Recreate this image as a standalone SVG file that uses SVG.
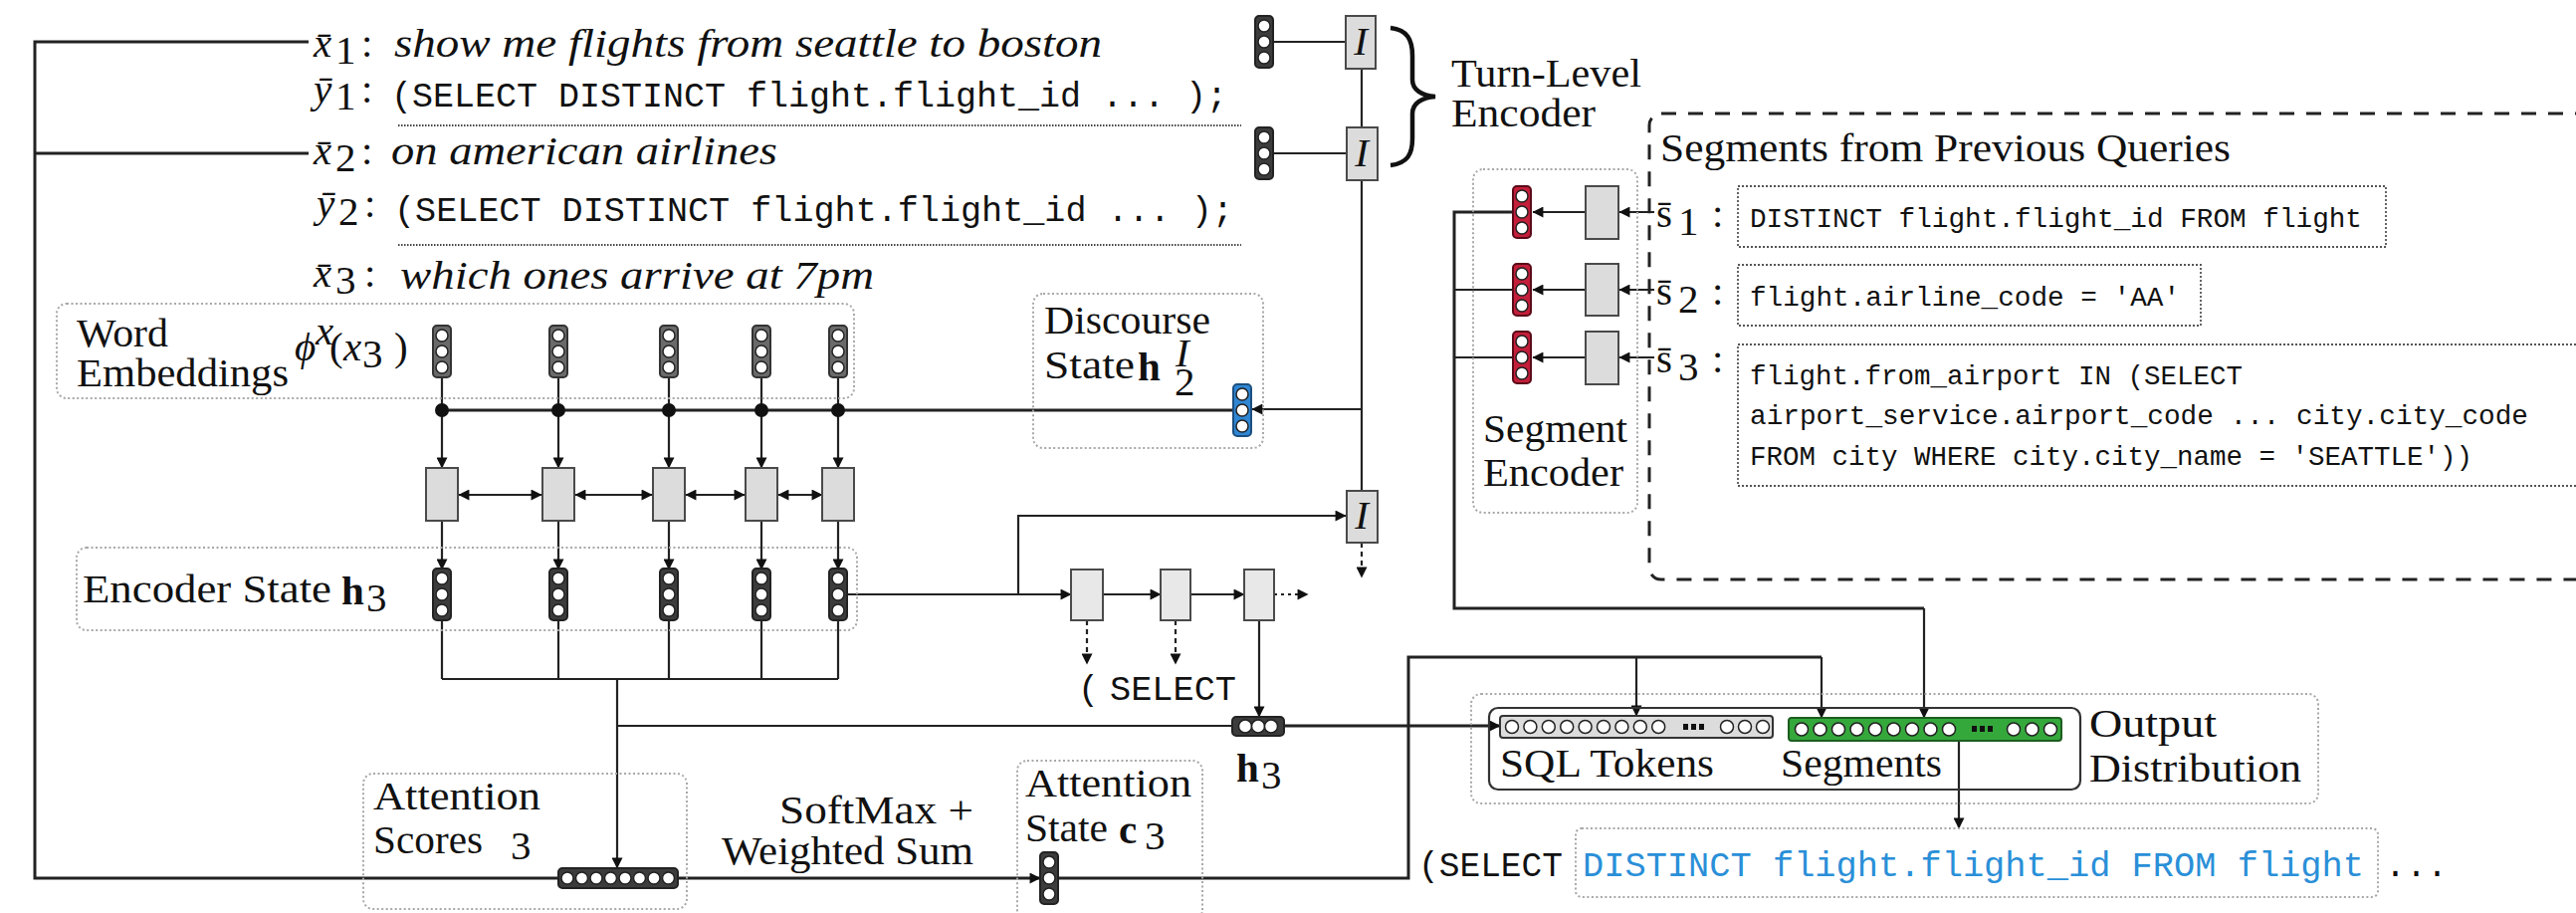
<svg xmlns="http://www.w3.org/2000/svg" width="2588" height="917" viewBox="0 0 2588 917">
<style>
.t{font-family:"Liberation Serif",serif;font-size:41px;fill:#111}
.it{font-style:italic}
.b{font-weight:bold}
.m{font-family:"Liberation Mono",monospace;font-size:35px;fill:#111}
.sm{font-family:"Liberation Mono",monospace;font-size:27.5px;fill:#111}
.grp{fill:none;stroke:#a8a8a8;stroke-width:2;stroke-dasharray:2 2.5}
.sb{fill:none;stroke:#555;stroke-width:1.8;stroke-dasharray:2 2}
.ln{fill:none;stroke:#222;stroke-width:2.2}
.thk{stroke-width:3}
.arr{marker-end:url(#ah)}
.bi{marker-start:url(#ah);marker-end:url(#ah)}
.dsh{stroke-dasharray:5 4}
.dot{stroke-dasharray:3 4}
.box{fill:#dcdcdc;stroke:#4a4a4a;stroke-width:2}
.dbox{fill:#e8e8e8;stroke:#4a4a4a;stroke-width:2}
.c{fill:#fff;stroke:#222;stroke-width:1.5}
</style>
<defs>
<marker id="ah" viewBox="0 0 10 10" refX="9.5" refY="5" markerWidth="12" markerHeight="11" markerUnits="userSpaceOnUse" orient="auto-start-reverse"><path d="M0,0 L10,5 L0,10 z" fill="#111"/></marker>
<g id="vn"><rect x="-9" y="-26" width="18" height="52" rx="4" stroke-width="2"/><circle class="c" cy="-16" r="6"/><circle class="c" r="6"/><circle class="c" cy="16" r="6"/></g>
</defs>

<g id="connectors">
<path class="ln thk" d="M310,42 H35 V882 H560"/>
<path class="ln thk" d="M35,154 H310"/>
<path class="ln" d="M1279,42 H1352 M1279,154 H1352"/>
<path class="ln" d="M1368,69 V128 M1368,181 V493"/>
<path class="ln arr" d="M1368,411 H1258"/>
<path class="ln dsh arr" d="M1368,545 V580"/>
<path class="ln thk" d="M444,412 H1239"/>
<path class="ln" d="M444,379 V412 M561,379 V412 M672,379 V412 M765,379 V412 M842,379 V412"/>
<path class="ln arr" d="M444,412 V470"/>
<path class="ln arr" d="M561,412 V470"/>
<path class="ln arr" d="M672,412 V470"/>
<path class="ln arr" d="M765,412 V470"/>
<path class="ln arr" d="M842,412 V470"/>
<path class="ln bi" d="M461,497 H544"/>
<path class="ln bi" d="M578,497 H655"/>
<path class="ln bi" d="M689,497 H748"/>
<path class="ln bi" d="M782,497 H826"/>
<path class="ln arr" d="M444,523 V572"/>
<path class="ln arr" d="M561,523 V572"/>
<path class="ln arr" d="M672,523 V572"/>
<path class="ln arr" d="M765,523 V572"/>
<path class="ln arr" d="M842,523 V572"/>
<path class="ln" d="M444,623 V682 M561,623 V682 M672,623 V682 M765,623 V682 M842,623 V682 M444,682 H842"/>
<path class="ln arr" d="M620,682 V872"/>
<path class="ln" d="M620,729 H1238"/>
<path class="ln thk arr" d="M1290,729 H1507"/>
<path class="ln arr" d="M851,597 H1076"/>
<path class="ln arr" d="M1023,597 V518 H1352"/>
<path class="ln arr" d="M1108,597 H1166"/>
<path class="ln arr" d="M1196,597 H1250"/>
<path class="ln dot arr" d="M1280,597 H1314"/>
<path class="ln dsh arr" d="M1092,623 V667"/>
<path class="ln dsh arr" d="M1181,623 V667"/>
<path class="ln arr" d="M1265,623 V720"/>
<path class="ln thk arr" d="M681,882 H1045"/>
<path class="ln thk" d="M1063,882 H1415 V660 H1830"/>
<path class="ln arr" d="M1830,660 V721"/>
<path class="ln arr" d="M1644,660 V719"/>
<path class="ln thk" d="M1519,213 H1461 V611 H1933"/>
<path class="ln arr" d="M1933,611 V721"/>
<path class="ln" d="M1461,291 H1519 M1461,359 H1519"/>
<path class="ln arr" d="M1593,213 H1540"/>
<path class="ln arr" d="M1593,291 H1540"/>
<path class="ln arr" d="M1593,359 H1540"/>
<path class="ln arr" d="M1662,213 H1627"/>
<path class="ln arr" d="M1662,291 H1627"/>
<path class="ln arr" d="M1662,359 H1627"/>
<path class="ln arr" d="M1968,744 V832"/>
</g>

<g id="utterances">
<text class="t it" x="315" y="57" font-size="44">x&#x304;</text><text class="t" x="337" y="64" font-size="26">1</text><text class="t" x="363" y="57">:</text>
<text class="t it" x="396" y="57" font-size="44" textLength="711" lengthAdjust="spacingAndGlyphs">show me flights from seattle to boston</text>
<text class="t it" x="315" y="103" font-size="44">y&#x304;</text><text class="t" x="337" y="110" font-size="26">1</text><text class="t" x="363" y="103">:</text>
<text class="m" x="393" y="107" textLength="840" lengthAdjust="spacingAndGlyphs">(SELECT DISTINCT flight.flight_id ... );</text>
<line x1="400" y1="126" x2="1247" y2="126" stroke="#444" stroke-width="2" stroke-dasharray="1.5 1.5"/>
<text class="t it" x="315" y="165" font-size="44">x&#x304;</text><text class="t" x="337" y="172" font-size="26">2</text><text class="t" x="363" y="165">:</text>
<text class="t it" x="393" y="165" font-size="44" textLength="388" lengthAdjust="spacingAndGlyphs">on american airlines</text>
<text class="t it" x="318" y="218" font-size="44">y&#x304;</text><text class="t" x="340" y="226" font-size="26">2</text><text class="t" x="366" y="218">:</text>
<text class="m" x="396" y="222" textLength="843" lengthAdjust="spacingAndGlyphs">(SELECT DISTINCT flight.flight_id ... );</text>
<line x1="400" y1="246" x2="1247" y2="246" stroke="#444" stroke-width="2" stroke-dasharray="1.5 1.5"/>
<text class="t it" x="315" y="288" font-size="44">x&#x304;</text><text class="t" x="337" y="295" font-size="26">3</text><text class="t" x="366" y="288">:</text>
<text class="t it" x="402" y="290" font-size="44" textLength="476" lengthAdjust="spacingAndGlyphs">which ones arrive at 7pm</text>
</g>

<g id="turn-encoder">
<use href="#vn" x="1270" y="42" fill="#3c3c3c" stroke="#222"/>
<use href="#vn" x="1270" y="154" fill="#3c3c3c" stroke="#222"/>
<rect class="box" x="1352" y="16" width="30" height="53"/><text class="t it" x="1367" y="55" text-anchor="middle" font-size="36">I</text>
<rect class="box" x="1353" y="128" width="31" height="53"/><text class="t it" x="1368" y="167" text-anchor="middle" font-size="36">I</text>
<path d="M1397,28 C1414,30 1419,40 1419,56 L1419,80 C1419,90 1428,96 1442,97 C1428,98 1419,104 1419,114 L1419,139 C1419,155 1414,164 1397,166" fill="none" stroke="#111" stroke-width="4.5"/>
<text class="t" x="1458" y="87" textLength="191" lengthAdjust="spacingAndGlyphs">Turn-Level</text>
<text class="t" x="1458" y="127" textLength="145" lengthAdjust="spacingAndGlyphs">Encoder</text>
</g>

<g id="word-embeddings">
<rect class="grp" x="57" y="305" width="801" height="95" rx="10"/>
<text class="t" x="77" y="348" textLength="92" lengthAdjust="spacingAndGlyphs">Word</text>
<text class="t" x="77" y="388" textLength="213" lengthAdjust="spacingAndGlyphs">Embeddings</text>
<text class="t it" x="296" y="362" font-size="32">ϕ</text><text class="t it" x="317" y="346" font-size="19">x</text><text class="t" x="331" y="362" font-size="34">(</text><text class="t it" x="345" y="362" font-size="32">x</text><text class="t" x="364" y="369" font-size="22">3</text><text class="t" x="396" y="362" font-size="34">)</text>
<use href="#vn" x="444" y="353" fill="#6a6a6a" stroke="#333"/>
<use href="#vn" x="561" y="353" fill="#6a6a6a" stroke="#333"/>
<use href="#vn" x="672" y="353" fill="#6a6a6a" stroke="#333"/>
<use href="#vn" x="765" y="353" fill="#6a6a6a" stroke="#333"/>
<use href="#vn" x="842" y="353" fill="#6a6a6a" stroke="#333"/>
<circle cx="444" cy="412" r="7" fill="#111"/><circle cx="561" cy="412" r="7" fill="#111"/><circle cx="672" cy="412" r="7" fill="#111"/><circle cx="765" cy="412" r="7" fill="#111"/><circle cx="842" cy="412" r="7" fill="#111"/>
</g>

<g id="bi-rnn">
<rect class="box" x="428" y="470" width="32" height="53"/>
<rect class="box" x="545" y="470" width="32" height="53"/>
<rect class="box" x="656" y="470" width="32" height="53"/>
<rect class="box" x="749" y="470" width="32" height="53"/>
<rect class="box" x="826" y="470" width="32" height="53"/>
</g>

<g id="encoder-state">
<rect class="grp" x="77" y="550" width="784" height="83" rx="10"/>
<text class="t" x="83" y="605" textLength="250" lengthAdjust="spacingAndGlyphs">Encoder State</text>
<text class="t b" x="343" y="607" font-size="44">h</text><text class="t" x="368" y="614" font-size="28">3</text>
<use href="#vn" x="444" y="597" fill="#3c3c3c" stroke="#222"/>
<use href="#vn" x="561" y="597" fill="#3c3c3c" stroke="#222"/>
<use href="#vn" x="672" y="597" fill="#3c3c3c" stroke="#222"/>
<use href="#vn" x="765" y="597" fill="#3c3c3c" stroke="#222"/>
<use href="#vn" x="842" y="597" fill="#3c3c3c" stroke="#222"/>
</g>

<g id="discourse-state">
<rect class="grp" x="1038" y="295" width="231" height="155" rx="10"/>
<text class="t" x="1049" y="335" textLength="167" lengthAdjust="spacingAndGlyphs">Discourse</text>
<text class="t" x="1049" y="380" textLength="91" lengthAdjust="spacingAndGlyphs">State</text>
<text class="t b" x="1143" y="382" font-size="44">h</text><text class="t it" x="1181" y="368" font-size="25">I</text><text class="t" x="1180" y="397" font-size="25">2</text>
<use href="#vn" x="1248" y="412" fill="#2f86d3" stroke="#1b4f80"/>
</g>

<g id="turn-encoder-3">
<rect class="box" x="1353" y="493" width="31" height="52"/><text class="t it" x="1368" y="531" text-anchor="middle" font-size="36">I</text>
</g>

<g id="decoder">
<rect class="dbox" x="1076" y="572" width="32" height="51"/>
<rect class="dbox" x="1166" y="572" width="30" height="51"/>
<rect class="dbox" x="1250" y="572" width="30" height="51"/>
<text class="m" x="1083" y="703">(</text>
<text class="m" x="1115" y="703" textLength="127" lengthAdjust="spacingAndGlyphs">SELECT</text>
</g>

<g id="h3">
<rect x="1238" y="720" width="52" height="19" rx="4" fill="#3c3c3c" stroke="#222" stroke-width="2"/>
<circle class="c" cx="1251" cy="729.5" r="6.5"/><circle class="c" cx="1264" cy="729.5" r="6.5"/><circle class="c" cx="1277" cy="729.5" r="6.5"/>
<text class="t b" x="1242" y="785" font-size="44">h</text><text class="t" x="1267" y="792" font-size="28">3</text>
</g>

<g id="attention-scores">
<rect class="grp" x="365" y="777" width="325" height="136" rx="10"/>
<text class="t" x="375" y="813" textLength="168" lengthAdjust="spacingAndGlyphs">Attention</text>
<text class="t" x="375" y="857" textLength="110" lengthAdjust="spacingAndGlyphs">Scores</text>
<text class="t" x="513" y="863" font-size="28">3</text>
<rect x="561" y="872" width="120" height="20" rx="4" fill="#3c3c3c" stroke="#222" stroke-width="2"/>
<circle class="c" cx="570" cy="882" r="6"/><circle class="c" cx="584.5" cy="882" r="6"/><circle class="c" cx="599" cy="882" r="6"/><circle class="c" cx="613.5" cy="882" r="6"/><circle class="c" cx="628" cy="882" r="6"/><circle class="c" cx="642.5" cy="882" r="6"/><circle class="c" cx="657" cy="882" r="6"/><circle class="c" cx="671.5" cy="882" r="6"/>
</g>

<g id="softmax-label">
<text class="t" x="783" y="827" font-size="39" textLength="195" lengthAdjust="spacingAndGlyphs">SoftMax +</text>
<text class="t" x="725" y="868" font-size="39" textLength="253" lengthAdjust="spacingAndGlyphs">Weighted Sum</text>
</g>

<g id="attention-state">
<rect class="grp" x="1022" y="764" width="186" height="160" rx="10"/>
<text class="t" x="1030" y="800" textLength="167" lengthAdjust="spacingAndGlyphs">Attention</text>
<text class="t" x="1030" y="845" textLength="83" lengthAdjust="spacingAndGlyphs">State</text>
<text class="t b" x="1124" y="847" font-size="44">c</text><text class="t" x="1150" y="853" font-size="28">3</text>
<use href="#vn" x="1054" y="882" fill="#3c3c3c" stroke="#222"/>
</g>

<g id="segment-encoder">
<rect class="grp" x="1480" y="170" width="165" height="345" rx="10"/>
<use href="#vn" x="1529" y="213" fill="#c41e3a" stroke="#5a0a18"/>
<use href="#vn" x="1529" y="291" fill="#c41e3a" stroke="#5a0a18"/>
<use href="#vn" x="1529" y="359" fill="#c41e3a" stroke="#5a0a18"/>
<rect class="box" x="1593" y="187" width="33" height="53"/>
<rect class="box" x="1593" y="265" width="33" height="52"/>
<rect class="box" x="1593" y="333" width="33" height="53"/>
<text class="t" x="1490" y="444" textLength="145" lengthAdjust="spacingAndGlyphs">Segment</text>
<text class="t" x="1490" y="488" textLength="141" lengthAdjust="spacingAndGlyphs">Encoder</text>
</g>

<g id="previous-segments">
<rect x="1657" y="114" width="1000" height="468" rx="12" fill="none" stroke="#222" stroke-width="3" stroke-dasharray="15 12"/>
<text class="t" x="1668" y="162" textLength="573" lengthAdjust="spacingAndGlyphs">Segments from Previous Queries</text>
<text class="t" x="1664" y="228" font-size="40">s&#x304;</text><text class="t" x="1686" y="236" font-size="29">1</text><text class="t" x="1720" y="228">:</text>
<text class="t" x="1664" y="306" font-size="40">s&#x304;</text><text class="t" x="1686" y="314" font-size="29">2</text><text class="t" x="1720" y="306">:</text>
<text class="t" x="1664" y="374" font-size="40">s&#x304;</text><text class="t" x="1686" y="382" font-size="29">3</text><text class="t" x="1720" y="374">:</text>
<rect class="sb" x="1746" y="187" width="651" height="61"/>
<text class="sm" x="1758" y="228" textLength="615" lengthAdjust="spacingAndGlyphs">DISTINCT flight.flight_id FROM flight</text>
<rect class="sb" x="1746" y="266" width="465" height="61"/>
<text class="sm" x="1758" y="307" textLength="432" lengthAdjust="spacingAndGlyphs">flight.airline_code = 'AA'</text>
<rect class="sb" x="1746" y="346" width="900" height="142"/>
<text class="sm" x="1758" y="386">flight.from_airport IN (SELECT</text>
<text class="sm" x="1758" y="426" textLength="782" lengthAdjust="spacingAndGlyphs">airport_service.airport_code ... city.city_code</text>
<text class="sm" x="1758" y="467">FROM city WHERE city.city_name = 'SEATTLE'))</text>
</g>

<g id="output-distribution">
<rect class="grp" x="1478" y="697" width="851" height="110" rx="10"/>
<rect x="1496" y="711" width="594" height="82" rx="9" fill="none" stroke="#333" stroke-width="2.2"/>
<rect x="1507" y="719" width="274" height="22" rx="3" fill="#dcdcdc" stroke="#333" stroke-width="2"/>
<circle class="c" cx="1519" cy="730" r="6.5"/><circle class="c" cx="1537.4" cy="730" r="6.5"/><circle class="c" cx="1555.8" cy="730" r="6.5"/><circle class="c" cx="1574.2" cy="730" r="6.5"/><circle class="c" cx="1592.6" cy="730" r="6.5"/><circle class="c" cx="1611" cy="730" r="6.5"/><circle class="c" cx="1629.4" cy="730" r="6.5"/><circle class="c" cx="1647.8" cy="730" r="6.5"/><circle class="c" cx="1666.2" cy="730" r="6.5"/>
<rect x="1691" y="727" width="5" height="6" fill="#111"/><rect x="1699" y="727" width="5" height="6" fill="#111"/><rect x="1707" y="727" width="5" height="6" fill="#111"/>
<circle class="c" cx="1735" cy="730" r="6.5"/><circle class="c" cx="1753" cy="730" r="6.5"/><circle class="c" cx="1771" cy="730" r="6.5"/>
<rect x="1797" y="721" width="274" height="23" rx="3" fill="#35a83c" stroke="#1d5e20" stroke-width="2"/>
<circle class="c" cx="1810" cy="732.5" r="6.5"/><circle class="c" cx="1828.5" cy="732.5" r="6.5"/><circle class="c" cx="1847" cy="732.5" r="6.5"/><circle class="c" cx="1865.5" cy="732.5" r="6.5"/><circle class="c" cx="1884" cy="732.5" r="6.5"/><circle class="c" cx="1902.5" cy="732.5" r="6.5"/><circle class="c" cx="1921" cy="732.5" r="6.5"/><circle class="c" cx="1939.5" cy="732.5" r="6.5"/><circle class="c" cx="1958" cy="732.5" r="6.5"/>
<rect x="1981" y="729" width="5" height="6" fill="#111"/><rect x="1989" y="729" width="5" height="6" fill="#111"/><rect x="1997" y="729" width="5" height="6" fill="#111"/>
<circle class="c" cx="2023" cy="732.5" r="6.5"/><circle class="c" cx="2041.5" cy="732.5" r="6.5"/><circle class="c" cx="2060" cy="732.5" r="6.5"/>
<text class="t" x="1507" y="780" textLength="215" lengthAdjust="spacingAndGlyphs">SQL Tokens</text>
<text class="t" x="1789" y="780" textLength="162" lengthAdjust="spacingAndGlyphs">Segments</text>
<text class="t" x="2099" y="740" textLength="128" lengthAdjust="spacingAndGlyphs">Output</text>
<text class="t" x="2099" y="785" textLength="213" lengthAdjust="spacingAndGlyphs">Distribution</text>
</g>

<g id="output-query">
<text class="m" x="1425" y="880" textLength="145" lengthAdjust="spacingAndGlyphs">(SELECT</text>
<rect class="grp" x="1583" y="832" width="806" height="69" rx="6"/>
<text class="m" x="1590" y="880" style="fill:#2a8fd8" textLength="785" lengthAdjust="spacingAndGlyphs">DISTINCT flight.flight_id FROM flight</text>
<text class="m" x="2396" y="880">...</text>
</g>
</svg>
